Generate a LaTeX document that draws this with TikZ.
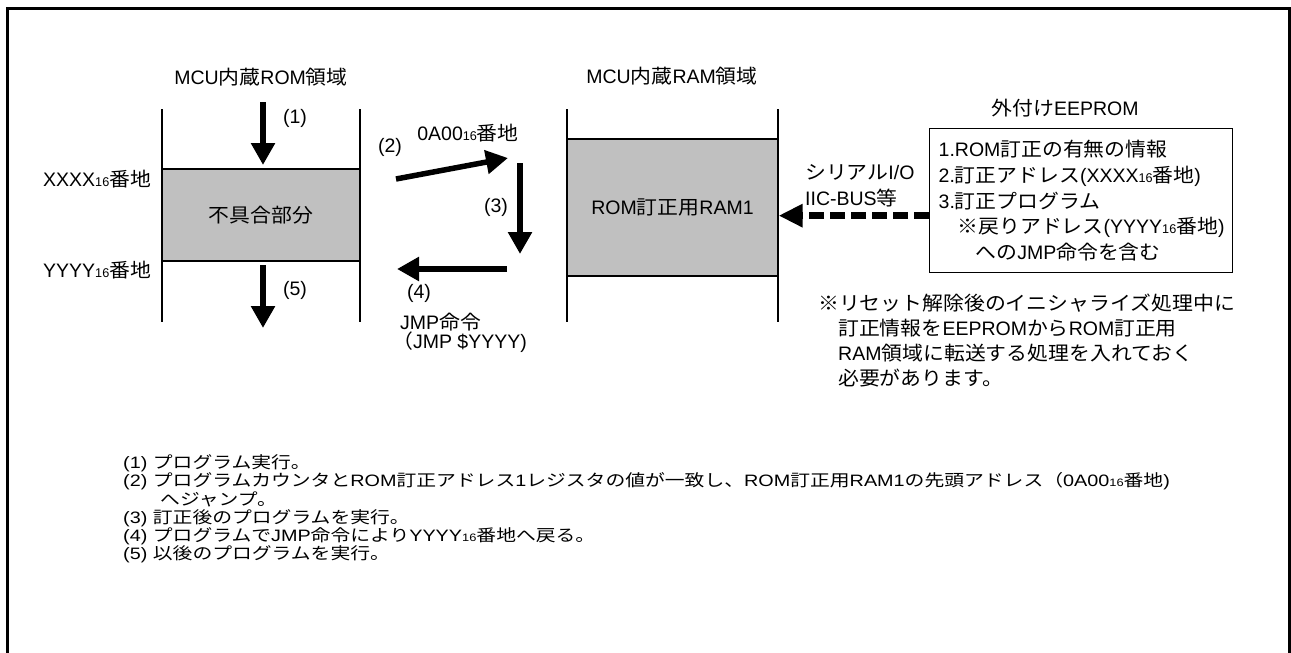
\documentclass[tikz,border=0pt]{standalone}
\usepackage{fontspec}
\setmainfont{Liberation Sans}
\newfontfamily\jpfont[FakeStretch=1.07]{Noto Sans CJK JP}
\newfontfamily\jpwide[FakeStretch=1.2]{Noto Sans CJK JP}
\newfontfamily\latinwide[FakeStretch=1.2]{Liberation Sans}
\usetikzlibrary{arrows.meta, positioning}

% switch to the Japanese font for CJK characters
\XeTeXinterchartokenstate=1
\newXeTeXintercharclass\jpclass
\newcount\jpcode
\newcommand\jprange[2]{\jpcode=#1 \loop\XeTeXcharclass\jpcode=\jpclass
  \ifnum\jpcode<#2 \advance\jpcode by 1 \repeat}
\jprange{"3000}{"30FF}
\jprange{"4E00}{"9FFF}
\jprange{"FF00}{"FFEF}
\XeTeXcharclass"203B=\jpclass
\newcommand\tojp{\jpfont}
\newcommand\tolatin{\rmfamily}
\XeTeXinterchartoks 0 \jpclass={\tojp}
\XeTeXinterchartoks 4095 \jpclass={\tojp}
\XeTeXinterchartoks \jpclass 0={\tolatin}
\XeTeXinterchartoks \jpclass 4095={\tolatin}

\definecolor{patchgray}{RGB}{192,192,192}

\makeatletter
\newcommand\radix[1]{{\dimen0=\f@size pt\dimen0=0.65\dimen0
  \fontsize{\strip@pt\dimen0}{\strip@pt\dimen0}\selectfont #1}}
\makeatother

\begin{document}
\begin{tikzpicture}[x=1pt, y=-1pt,
    region/.style={line width=1.3pt},
    patch/.style={draw, line width=1.3pt, fill=patchgray},
    flow/.style={line width=5.5pt, -{Triangle[width=23pt,length=22pt]}},
    serial/.style={line width=7.5pt, dash pattern=on 15pt off 6pt, -{Triangle[width=22pt,length=24pt]}},
    txt/.style={inner sep=0pt, font=\fontsize{19.5}{25.7}\selectfont},
    steptxt/.style={inner sep=0pt, align=left,
      font=\let\tojp\jpwide\let\tolatin\latinwide\latinwide\fontsize{16.5}{18.3}\selectfont}]
		\clip (0,0) rectangle (1291,653);
		\draw[line width=3pt] (7.5,670) -- (7.5,8.5) -- (1289.5,8.5) -- (1289.5,670);
		
		% ROM side
		\node[txt]	(romtitle) at (261,77) {MCU内蔵ROM領域};
		\node[patch, txt, minimum width=198pt, minimum height=92pt]	(bug) at (261,215) {不具合部分};
		\draw[region] (162,109) -- (162,322);
		\draw[region] (360,109) -- (360,322);
		\node[txt, anchor=west]	(xaddr) at (43,179) {XXXX\radix{16}番地};
		\node[txt, anchor=west]	(yaddr) at (43,270) {YYYY\radix{16}番地};
		
		% RAM side
		\node[txt]	(ramtitle) at (672,76) {MCU内蔵RAM領域};
		\node[patch, txt, minimum width=211pt, minimum height=137pt]	(ram) at (672.5,207.5) {ROM訂正用RAM1};
		\draw[region] (567,109) -- (567,322);
		\draw[region] (778,109) -- (778,322);
		
		% EEPROM
		\node[txt]	(eetitle) at (1065,108) {外付けEEPROM};
		\node[txt, draw, line width=1.3pt, anchor=north west, minimum width=303pt, minimum height=144pt,
			text width=285pt, inner xsep=9pt, align=left]	(eeprom) at (929,128)
			{1.ROM訂正の有無の情報\\
			 2.訂正アドレス(XXXX\radix{16}番地)\\
			 3.訂正プログラム\\
			 \hspace*{19pt}※戻りアドレス(YYYY\radix{16}番地)\\
			 \hspace*{37pt}へのJMP命令を含む};
		\node[txt, anchor=west, align=left]	(bus) at (805,185.5) {シリアルI/O\\IIC-BUS等};
		\coordinate (eeport) at ([yshift=-15pt]eeprom.west);
		\draw[serial] (eeport) -- (eeport -| ram.east);
		\node[txt, anchor=west, align=left, font=\fontsize{19.5}{25}\selectfont]	(reminder) at (818,340.5)
			{※リセット解除後のイニシャライズ処理中に\\
			 \hspace*{20pt}訂正情報をEEPROMからROM訂正用\\
			 \hspace*{20pt}RAM領域に転送する処理を入れておく\\
			 \hspace*{20pt}必要があります。};
		
		% flow of execution
		\coordinate (s1a) at (263,102);	\coordinate (s1b) at (263,165);
		\coordinate (s2a) at (396,179);	\coordinate (s2b) at (508,158);
		\coordinate (s3a) at (520,163);	\coordinate (s3b) at (520,254);
		\coordinate (s4a) at (507,269);	\coordinate (s4b) at (397,269);
		\coordinate (s5a) at (263,265);	\coordinate (s5b) at (263,328);
		\draw[flow] (s1a) -- (s1b);
		\draw[flow] (s2a) -- (s2b);
		\draw[flow] (s3a) -- (s3b);
		\draw[flow] (s4a) -- (s4b);
		\draw[flow] (s5a) -- (s5b);
		\node[txt]	(n1) at (295,118) {(1)};
		\node[txt]	(n2) at (390,147) {(2)};
		\node[txt]	(n3) at (496,207) {(3)};
		\node[txt]	(n4) at (419,293) {(4)};
		\node[txt]	(n5) at (295,290) {(5)};
		\node[txt]	(entry) at (468,133) {0A00\radix{16}番地};
		\node[txt, anchor=north west, align=left, font=\fontsize{19.5}{19}\selectfont]	(jmp) at (392,313)
			{\hspace*{8pt}JMP命令\\（JMP \$YYYY)};
		
		% explanation
		\node[steptxt, anchor=west]	(steps) at (123,509)
			{(1) プログラム実行。\\
			 (2) プログラムカウンタとROM訂正アドレス1レジスタの値が一致し、ROM訂正用RAM1の先頭アドレス（0A00\radix{16}番地)\\
			 \hspace*{37pt}へジャンプ。\\
			 (3) 訂正後のプログラムを実行。\\
			 (4) プログラムでJMP命令によりYYYY\radix{16}番地へ戻る。\\
			 (5) 以後のプログラムを実行。};
	\end{tikzpicture}
\end{document}
